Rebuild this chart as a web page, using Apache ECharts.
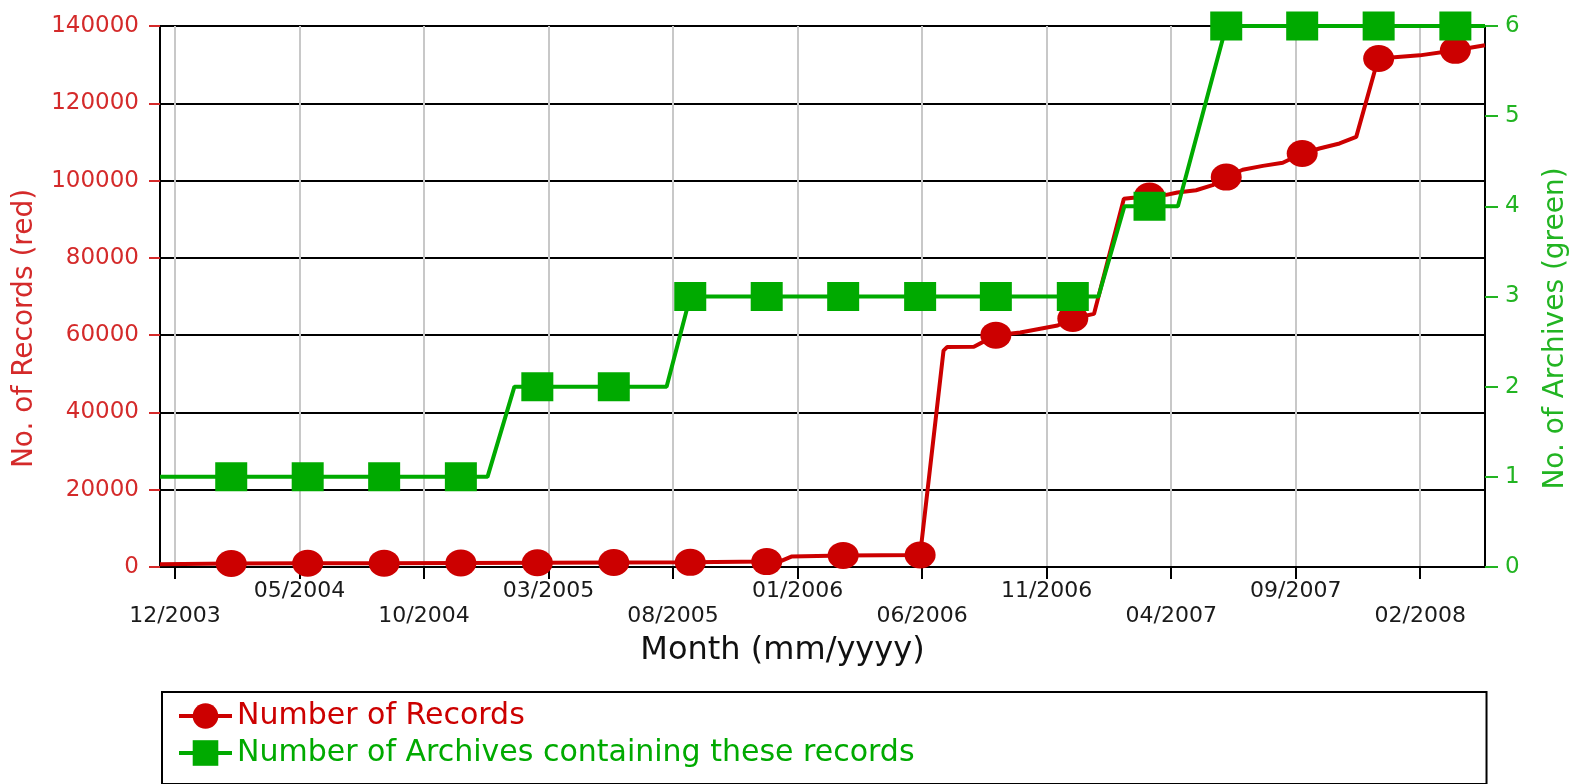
<!DOCTYPE html>
<html>
<head>
<meta charset="utf-8">
<script src="https://cdn.jsdelivr.net/npm/echarts@6/dist/echarts.min.js"></script>
<style>
	html, body { margin: 0; padding: 0; background: #fff; }
	#chart { width: 1582px; height: 784px; }
</style>
</head>
<body>
<div id="chart"></div>
<script>
// x is counted in months from 12/2003
const tickMonths = [0, 5, 10, 15, 20, 25, 30, 35, 40, 45, 50];
const tickLabels = ["12/2003", "05/2004", "10/2004", "03/2005", "08/2005", "01/2006", "06/2006", "11/2006", "04/2007", "09/2007", "02/2008"];

// where the chart draws its symbols
const markerMonths = [2.26, 5.33, 8.4, 11.48, 14.55, 17.62, 20.69, 23.76, 26.83, 29.92, 32.96, 36.05, 39.13, 42.21, 45.26, 48.33, 51.41];

const recordMonths = [-0.6, 2.26, 5.33, 8.4, 11.48, 14.55, 17.62, 20.69, 23.76, 24.3, 24.75, 26.83, 29.92, 30.86, 31.0, 32.08, 32.96, 33.94, 35.44, 36.05, 36.9, 38.1, 39.13, 39.8, 40.25, 41.0, 41.66, 42.21, 42.87, 43.68, 44.48, 45.26, 45.95, 46.76, 47.43, 48.2, 48.33, 49.98, 51.41, 52.6];
const recordCounts = [700, 900, 950, 1000, 1050, 1100, 1150, 1200, 1400, 1450, 2700, 3000, 3100, 56000, 56900, 57000, 60000, 60700, 62500, 64300, 65500, 95300, 96000, 96300, 96900, 97500, 98800, 100900, 102800, 103800, 104600, 107000, 108300, 109600, 111300, 129000, 131600, 132400, 133700, 135000];

const archiveMonths = [-0.6, 2.26, 5.33, 8.4, 11.48, 12.55, 13.63, 14.55, 17.62, 19.74, 20.69, 23.76, 26.83, 29.92, 32.96, 36.05, 37.08, 38.12, 39.13, 40.27, 42.21, 45.26, 48.33, 51.41, 52.6];
const archiveCounts = [1, 1, 1, 1, 1, 1, 2, 2, 2, 2, 3, 3, 3, 3, 3, 3, 3, 4, 4, 4, 6, 6, 6, 6, 6];

const RED = "#cc0000";
const RED_TEXT = "#d42a2a";
const GREEN = "#00aa00";
const GREEN_TEXT = "#22b422";
const FONT = "DejaVu Sans";

const toPoints = (months, counts) => months.map((m, i) => ({
	value  : [m, counts[i]],
	symbol : markerMonths.includes(m) ? undefined : "none",
}));

const chart = echarts.init(document.getElementById("chart"));

chart.setOption({
	backgroundColor : "#fff",
	animation       : false,
	textStyle       : { fontFamily: FONT },
	grid            : {
		left            : 160,
		right           : 97,
		top             : 26,
		bottom          : 217,
		outerBoundsMode : "none",
	},
	legend: {
		orient          : "vertical",
		left            : 162,
		top             : 692,
		padding         : [8, 572, 15, 15],
		borderColor     : "#000",
		borderWidth     : 2,
		itemWidth       : 53,
		itemHeight      : 32,
		itemGap         : 5,
		backgroundColor : "#fff",
		lineStyle       : { width: 4 },
		textStyle       : {
			fontFamily : FONT,
			fontSize   : 30,
			lineHeight : 32,
		},
		data: [
			{ name: "Number of Records", textStyle: { color: RED } },
			{ name: "Number of Archives containing these records", textStyle: { color: GREEN } },
		],
	},
	xAxis: {
		type          : "value",
		min           : -0.6,
		max           : 52.6,
		name          : "Month (mm/yyyy)",
		nameLocation  : "middle",
		nameGap       : 62,
		nameTextStyle : {
			fontFamily : FONT,
			fontSize   : 32,
			lineHeight : 34,
			color      : "#111",
			padding    : [0, 80, 0, 0],
		},
		axisLine: {
			onZero    : false,
			lineStyle : { color: "#000", width: 2 },
		},
		axisTick: {
			customValues : tickMonths,
			length       : 12,
			lineStyle    : { color: "#000", width: 2 },
		},
		axisLabel: {
			customValues : tickMonths,
			margin       : 12,
			fontFamily   : FONT,
			fontSize     : 22,
			lineHeight   : 25,
			color        : "#1a1a1a",
			formatter    : (value) => {
				const i = tickMonths.indexOf(value);
				return i % 2 == 0 ? "\n" + tickLabels[i] : tickLabels[i];
			},
		},
		splitLine: {
			show      : true,
			lineStyle : { color: "#c8c8c8", width: 2 },
		},
	},
	yAxis: [
		{
			type          : "value",
			min           : 0,
			max           : 140000,
			interval      : 20000,
			name          : "No. of Records (red)",
			nameLocation  : "middle",
			nameGap       : 118,
			nameTextStyle : {
				fontFamily : FONT,
				fontSize   : 28,
				lineHeight : 32,
				color      : RED_TEXT,
				padding    : [0, 64, 0, 0],
			},
			axisLine: {
				show      : true,
				onZero    : false,
				lineStyle : { color: "#000", width: 2 },
			},
			axisTick: {
				show      : true,
				length    : 11,
				lineStyle : { color: RED_TEXT, width: 2 },
			},
			axisLabel: {
				margin     : 21,
				fontFamily : FONT,
				fontSize   : 23,
				color      : RED_TEXT,
				formatter  : (value) => String(value),
			},
			splitLine: {
				show      : true,
				lineStyle : { color: "#000", width: 2 },
			},
		},
		{
			type          : "value",
			min           : 0,
			max           : 6,
			interval      : 1,
			name          : "No. of Archives (green)",
			nameLocation  : "middle",
			nameGap       : 55,
			nameTextStyle : {
				fontFamily : FONT,
				fontSize   : 28,
				lineHeight : 32,
				color      : GREEN_TEXT,
				padding    : [0, 64, 0, 0],
			},
			axisLine: {
				show      : true,
				onZero    : false,
				lineStyle : { color: "#000", width: 2 },
			},
			axisTick: {
				show      : true,
				length    : 13,
				lineStyle : { color: GREEN_TEXT, width: 2 },
			},
			axisLabel: {
				margin     : 20,
				fontFamily : FONT,
				fontSize   : 23,
				color      : GREEN_TEXT,
			},
			splitLine: { show: false },
		},
	],
	series: [
		{
			name          : "Number of Records",
			type          : "line",
			yAxisIndex    : 0,
			clip          : false,
			symbol        : "circle",
			symbolSize    : [31, 27],
			showSymbol    : true,
			showAllSymbol : true,
			color         : RED,
			lineStyle     : { color: RED, width: 4 },
			itemStyle     : { color: RED },
			data          : toPoints(recordMonths, recordCounts),
			z             : 3,
		},
		{
			name          : "Number of Archives containing these records",
			type          : "line",
			yAxisIndex    : 1,
			clip          : false,
			symbol        : "rect",
			symbolSize    : [32, 29],
			showSymbol    : true,
			showAllSymbol : true,
			color         : GREEN,
			lineStyle     : { color: GREEN, width: 4 },
			itemStyle     : { color: GREEN },
			data          : toPoints(archiveMonths, archiveCounts),
			z             : 4,
		},
	],
});
</script>
</body>
</html>
